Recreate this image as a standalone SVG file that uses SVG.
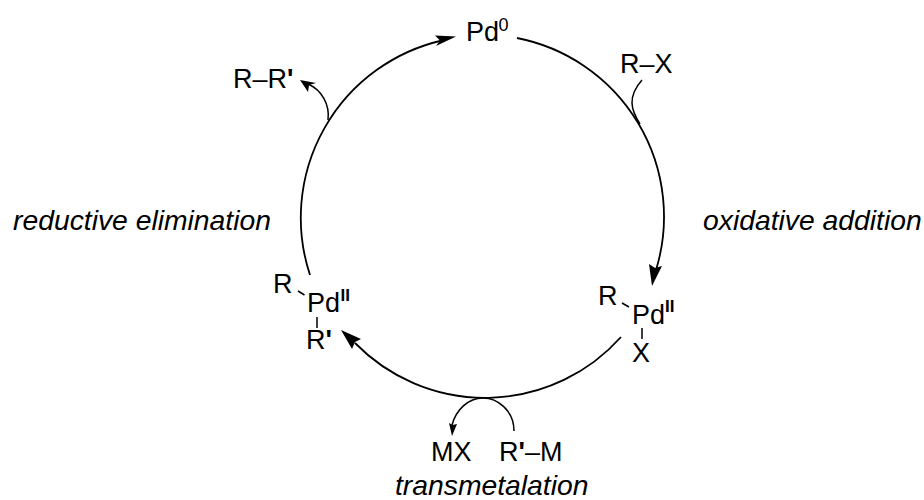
<svg xmlns="http://www.w3.org/2000/svg" width="924" height="500" viewBox="0 0 924 500">
<style>
text{font-family:"Liberation Sans",Arial,sans-serif;font-size:27px;fill:#000}
.i{font-style:italic;font-size:28.300px}
.s{font-size:18px}
.b{font-size:17px;font-weight:bold}
.p{font-weight:bold}
.c{fill:none;stroke:#000;stroke-width:1.800}
.t{fill:none;stroke:#000;stroke-width:1.500}
.h{fill:#000;stroke:none}
</style>
<rect width="924" height="500" fill="#fff"/>
<g id="connectors">
<path class="c" d="M310 275A182 182 0 0 1 442 40.500"/>
<polygon class="h" points="456,36.500 436,46 440,40.500 435,35.500"/>
<path class="c" d="M517 38A182 182 0 0 1 656 270"/>
<polygon class="h" points="652,286 649,264 655,268 662,266"/>
<path class="c" d="M621 337A182 182 0 0 1 355 343"/>
<polygon class="h" points="341,330 361,339 355,342 352,349"/>
<path class="t" d="M328 120C330 105 322 90 308 84"/>
<polygon class="h" points="300,80 316,83 309,85 308,92"/>
<path class="t" d="M640 124C631 110 627 97 642 80"/>
<path class="t" d="M514 431C514 410 497 398 483 398C468 398 456 410 452 425"/>
<polygon class="h" points="452,436 449,423 452.500,425 457,424"/>
<path class="t" d="M622 303L629 307M642 328V339M298 291L304.500 295M317 317V328"/>
</g>
<g id="pd0"><text x="466" y="41">Pd</text><text x="498.500" y="30.500" class="s">0</text></g>
<g id="rr"><text x="233" y="88">R–R<tspan class="p">'</tspan></text></g>
<g id="rx"><text x="620" y="73">R–X</text></g>
<g id="oa"><text x="703" y="230" class="i">oxidative addition</text></g>
<g id="re"><text x="13" y="230" class="i">reductive elimination</text></g>
<g id="pdx"><text x="598" y="305">R</text><text x="632" y="324">Pd</text><text x="665" y="312" class="b">II</text><text x="632" y="362">X</text></g>
<g id="pdr"><text x="273" y="293">R</text><text x="307" y="312">Pd</text><text x="340.500" y="301" class="b">II</text><text x="306" y="349">R<tspan class="p">'</tspan></text></g>
<g id="mx"><text x="431" y="461">MX</text></g>
<g id="rm"><text x="499" y="461">R<tspan class="p">'</tspan>–M</text></g>
<g id="tm"><text x="395" y="495" class="i">transmetalation</text></g>
</svg>
